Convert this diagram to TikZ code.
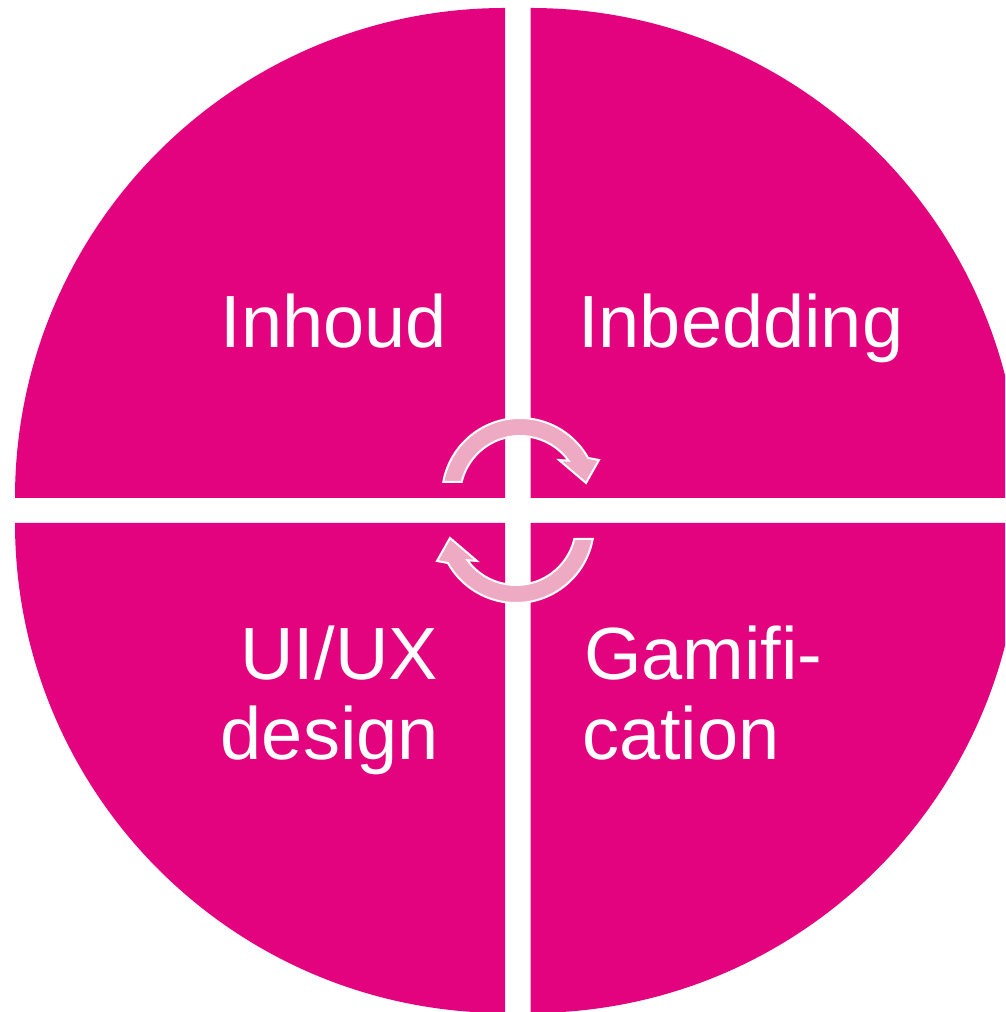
\documentclass[tikz,border=0pt]{standalone}
\usepackage{fontspec}
\setmainfont{Liberation Sans}
\definecolor{quadcol}{HTML}{E3037F}
\definecolor{arrowcol}{HTML}{EFAAC3}
\begin{document}
\begin{tikzpicture}[x=1pt,y=1pt,
  quad/.style={fill=quadcol},
  lbl/.style={text=white,inner sep=0pt,font=\fontsize{74}{80}\selectfont},
  cyclearrow/.pic={
    \filldraw[fill=arrowcol,draw=white,line width=2pt,line join=miter]
      (169.66:78pt) arc[start angle=169.66,end angle=29.2,radius=78pt]
      -- (79,36) -- (66,13) -- (39,36)
      -- (36:60pt) arc[start angle=36,end angle=166.5,radius=60pt]
      -- cycle;
  }]
\useasboundingbox (0,0) rectangle (1005,1012);
\clip (0,0) rectangle (1005,1012);
% quadrants
\fill[quad] (505,514) -- ++(180:490) arc[start angle=180,end angle=90,radius=490pt] -- cycle;
\fill[quad] (530.5,514) -- ++(90:490) arc[start angle=90,end angle=0,radius=490pt] -- cycle;
\fill[quad] (505,489) -- ++(270:490) arc[start angle=270,end angle=180,radius=490pt] -- cycle;
\fill[quad] (530.5,489) -- ++(0:490) arc[start angle=360,end angle=270,radius=490pt] -- cycle;
% labels
\node[lbl,anchor=base east] (inhoud) at (447,664) {Inhoud};
\node[lbl,anchor=base west] (inbedding) at (578,664) {Inbedding};
\node[lbl,anchor=base east] (uiux) at (438,332) {UI/UX};
\node[lbl,anchor=base east] (design) at (439,252) {design};
\node[lbl,anchor=base west] (gamifi) at (584,332) {Gamifi-};
\node[lbl,anchor=base west] (cation) at (582,252) {cation};
% arrows
\pic at (520,516) {cyclearrow};
\pic[rotate=180] at (516,487) {cyclearrow};
\end{tikzpicture}
\end{document}
